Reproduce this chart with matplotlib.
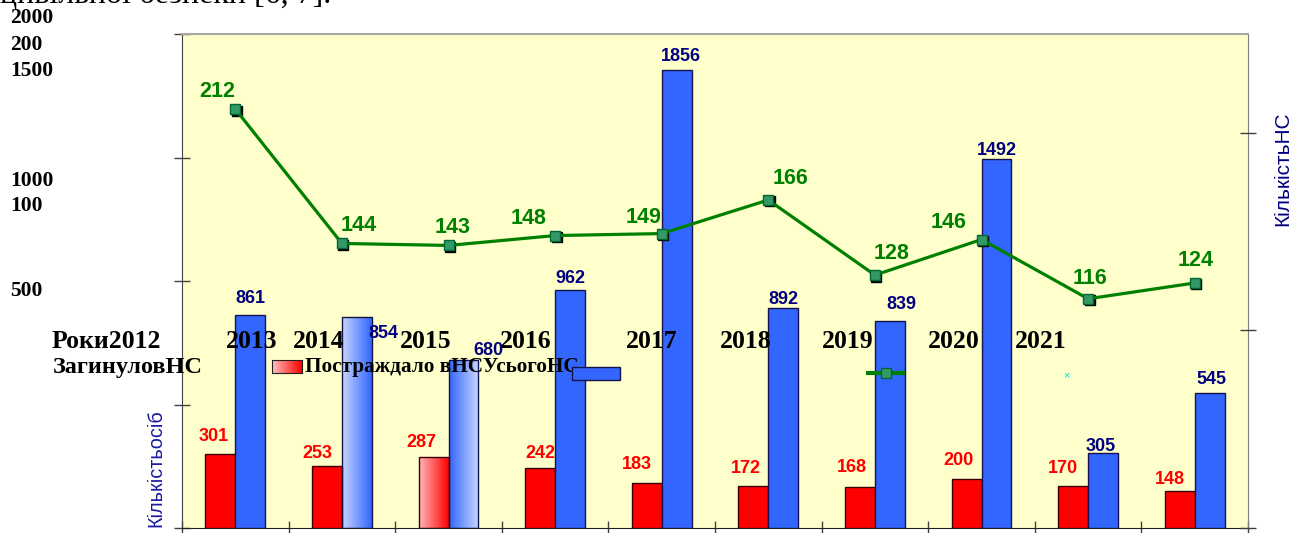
import numpy as np
import matplotlib
matplotlib.use('Agg')
import matplotlib.pyplot as plt
import matplotlib.transforms as mtransforms
from matplotlib.colors import LinearSegmentedColormap
from matplotlib.patches import Rectangle

# Chart data
years = ['2012', '2013', '2014', '2015', '2016', '2017', '2018', '2019', '2020', '2021']
killed = [301, 253, 287, 242, 183, 172, 168, 200, 170, 148]
injured = [861, 854, 680, 962, 1856, 892, 839, 1492, 305, 545]
total_ns = [212, 144, 143, 148, 149, 166, 128, 146, 116, 124]

# mangled axis tick labels that ended up at the left edge
left_labels = ['2000', '200', '1500', '1000', '100', '500']
year_row = ['Роки2012'] + years[1:]

# layout (pixels in the 1293x533 image)
W, H = 1293, 533
left_label_y = [18, 45, 71, 181, 206, 291]
year_row_x = [52, 226, 293, 400, 500, 626, 720, 822, 928, 1015]
red_off = [(-7, 17), (-10, 12), (-12, 15), (0, 15), (-10, 18), (-8, 17), (-8, 19), (-8, 18), (-10, 18), (-10, 12)]
blue_off = [(0, 17), (27, -16), (25, 10), (0, 12), (4, 13), (0, 8), (12, 16), (0, 9), (-2, 6), (2, 14)]
green_off = [(-18, 18), (17, 18), (4, 18), (-27, 17), (-18, 16), (22, 21), (17, 22), (-33, 17), (2, 20), (1, 22)]

BLUE = '#3366FF'
RED = '#FF0000'
GREEN = '#008000'
NAVY = '#000080'
SERIF = 'Liberation Serif'
SANS = 'Liberation Sans'


def fx(x):
    return x / W


def fy(y):
    return 1 - y / H


fig = plt.figure(figsize=(W / 100, H / 100), dpi=100)
ax = fig.add_axes([fx(182), fy(528), fx(1248) - fx(182), fy(34) - fy(528)])
ax.set_facecolor('#FFFFCC')

x = np.arange(len(years))
bw = 0.28
red_bars = ax.bar(x - bw / 2, killed, bw, color=RED, edgecolor='#3a0000', linewidth=1, zorder=3)
blue_bars = ax.bar(x + bw / 2, injured, bw, color=BLUE, edgecolor='#14144a', linewidth=1, zorder=3)


def gradient(bar, c_left, c_right):
    cmap = LinearSegmentedColormap.from_list('g', [c_left, c_right])
    grad = np.linspace(0, 1, 64).reshape(1, -1)
    x0, w, h = bar.get_x(), bar.get_width(), bar.get_height()
    ax.imshow(grad, cmap=cmap, extent=(x0, x0 + w, 0, h), aspect='auto', zorder=2.5)
    bar.set_facecolor('none')


gradient(blue_bars[1], '#C8D6FF', BLUE)
gradient(red_bars[2], '#FFB8B8', RED)
gradient(blue_bars[2], BLUE, '#C8D6FF')

ax.set_xlim(-0.5, len(years) - 0.5)
ax.set_ylim(0, 2000)
ax.set_yticks([0, 500, 1000, 1500, 2000])
ax.set_yticklabels([])
ax.set_xticks(np.arange(-0.5, len(years), 1.0))
ax.set_xticklabels([])
ax.tick_params(axis='y', direction='inout', length=11, width=1, color='#404040')
ax.tick_params(axis='x', direction='inout', length=10, width=1, color='#404040')
ax.spines['left'].set_color('#404040')
ax.spines['bottom'].set_color('#202020')
ax.spines['top'].set_color('#A8A8A8')
ax.spines['top'].set_linewidth(1.5)
ax.spines['right'].set_color('#808080')

for i, (v, (dx, dy)) in enumerate(zip(killed, red_off)):
    ax.annotate(str(v), (x[i] - bw / 2, v), xytext=(dx, dy), textcoords='offset pixels',
                ha='center', va='center', color=RED, fontsize=13, fontweight='bold',
                family=SANS, zorder=5)
for i, (v, (dx, dy)) in enumerate(zip(injured, blue_off)):
    ax.annotate(str(v), (x[i] + bw / 2, v), xytext=(dx, dy), textcoords='offset pixels',
                ha='center', va='center', color=NAVY, fontsize=13, fontweight='bold',
                family=SANS, zorder=5)

ax2 = ax.twinx()
ax2.set_ylim(0, 250)
ax2.set_yticks([0, 100, 200])
ax2.set_yticklabels([])
ax2.tick_params(axis='y', direction='inout', length=11, width=1, color='#404040')
for s in ax2.spines.values():
    s.set_visible(False)

shadow = mtransforms.offset_copy(ax2.transData, fig=fig, x=1.5, y=-1.5, units='dots')
ax2.plot(x, total_ns, 's', color='black', markersize=7, transform=shadow, zorder=3)
ax2.plot(x, total_ns, '-', color=GREEN, linewidth=2.3, zorder=4)
ax2.plot(x, total_ns, 's', color='#339966', markeredgecolor='#006633', markersize=7, zorder=5)
for i, (v, (dx, dy)) in enumerate(zip(total_ns, green_off)):
    ax2.annotate(str(v), (x[i], v), xytext=(dx, dy), textcoords='offset pixels',
                 ha='center', va='center', color=GREEN, fontsize=15.5, fontweight='bold',
                 family=SANS, zorder=6)

# axis titles
fig.text(fx(1283), fy(169), 'КількістьНС', rotation=90, ha='center', va='center',
         color=NAVY, fontsize=15, family=SANS)
fig.text(fx(156), fy(468), 'Кількістьосіб', rotation=90, ha='center', va='center',
         color='#1a1aa0', fontsize=14.3, family=SANS)

# cut-off paragraph line at the very top
fig.text(0, fy(3), 'цивільної безпеки [6, 7].', ha='left', va='baseline',
         fontsize=23, family=SERIF, color='black')

# stray tick labels at the left
for t, yy in zip(left_labels, left_label_y):
    fig.text(fx(10), fy(yy), t, ha='left', va='center', fontsize=15.5,
             fontweight='bold', family=SERIF)

# year row
for t, xx in zip(year_row, year_row_x):
    fig.text(fx(xx), fy(342), t, ha='left', va='center', fontsize=18.5,
             fontweight='bold', family=SERIF)

# broken legend row
fig.text(fx(53), fy(367), 'ЗагинуловНС', ha='left', va='center', fontsize=17.5,
         fontweight='bold', family=SERIF)
fig.text(fx(305), fy(367), 'Постраждало вНСУсьогоНС', ha='left', va='center',
         fontsize=15.3, fontweight='bold', family=SERIF)

sw = fig.add_axes([fx(272), fy(373), fx(302) - fx(272), fy(360) - fy(373)])
sw.imshow(np.linspace(0, 1, 64).reshape(1, -1), aspect='auto',
          cmap=LinearSegmentedColormap.from_list('r', ['#FFC0C0', RED]))
sw.set_xticks([])
sw.set_yticks([])
for s in sw.spines.values():
    s.set_color('#202020')

fig.patches.append(Rectangle((fx(572), fy(380)), fx(620) - fx(572), fy(367) - fy(380),
                             transform=fig.transFigure, facecolor=BLUE,
                             edgecolor='#14144a', linewidth=1, zorder=4))
lg = fig.add_axes([fx(866), fy(380), fx(905) - fx(866), fy(366) - fy(380)])
lg.set_axis_off()
lg.set_xlim(0, 1)
lg.set_ylim(0, 1)
lg.plot([0.05, 0.95], [0.5, 0.5], color=GREEN, linewidth=3)
lg.plot([0.5], [0.5], 's', color='#339966', markeredgecolor='#006633', markersize=7)
fig.text(fx(1066), fy(375), '×', ha='center', va='center', color='#00E0E0',
         fontsize=8, family=SANS)

fig.savefig('out.png', dpi=100)
